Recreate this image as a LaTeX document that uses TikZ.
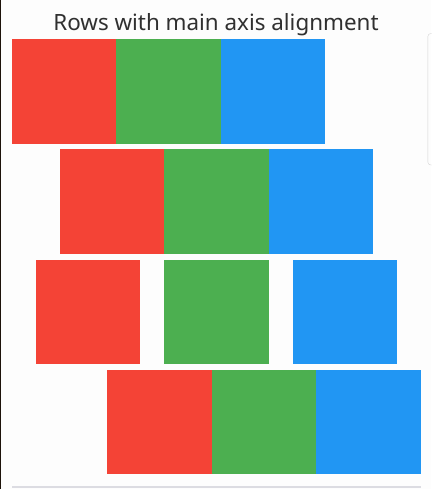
\documentclass[tikz,border=0pt]{standalone}
\usepackage{fontspec}
\setmainfont{Noto Sans}
\usepackage{xcolor}
\definecolor{mred}{HTML}{F44336}
\definecolor{mgreen}{HTML}{4CAF50}
\definecolor{mblue}{HTML}{2196F3}
\definecolor{bgcol}{HTML}{FDFDFD}
\definecolor{titlecol}{HTML}{303030}
\definecolor{rulecol}{HTML}{DCDCE2}
\definecolor{edgecol}{HTML}{D4D4D4}
\begin{document}
\begin{tikzpicture}[
  x=1pt, y=-1pt,
  sq/.style={minimum size=104.5pt, inner sep=0pt, outer sep=0pt, anchor=north west},
  title/.style={font=\fontsize{22.4}{26}\selectfont, text=titlecol, anchor=base, inner sep=0pt}
]
\fill[bgcol] (0,0) rectangle (431,489);
\useasboundingbox (0,0) rectangle (431,489);
\fill[black!85!brown] (0,0) rectangle (1.2,489);
\draw[edgecol, rounded corners=3pt] (440,33.5) -- (427.8,33.5) -- (427.8,165) -- (440,165);
\node[title] (head) at (216,31) {Rows with main axis alignment};
% row 1: start
\node[sq, fill=mred]   (r1) at (11.8,39.5) {};
\node[sq, fill=mgreen] (g1) at (r1.north east) {};
\node[sq, fill=mblue]  (b1) at (g1.north east) {};
% row 2: center
\node[sq, fill=mred]   (r2) at (59.8,149.5) {};
\node[sq, fill=mgreen] (g2) at (r2.north east) {};
\node[sq, fill=mblue]  (b2) at (g2.north east) {};
% row 3: space evenly
\node[sq, fill=mred]   (r3) at (35.8,259.5) {};
\node[sq, fill=mgreen] (g3) at (164.2,259.5) {};
\node[sq, fill=mblue]  (b3) at (292.5,259.5) {};
% row 4: end
\node[sq, fill=mred]   (r4) at (107.4,369.5) {};
\node[sq, fill=mgreen] (g4) at (r4.north east) {};
\node[sq, fill=mblue]  (b4) at (g4.north east) {};
\coordinate (ruleL) at (12,487);
\coordinate (ruleR) at (421,487);
\draw[rulecol, line width=1.2pt] (ruleL) -- (ruleR);
\end{tikzpicture}
\end{document}
